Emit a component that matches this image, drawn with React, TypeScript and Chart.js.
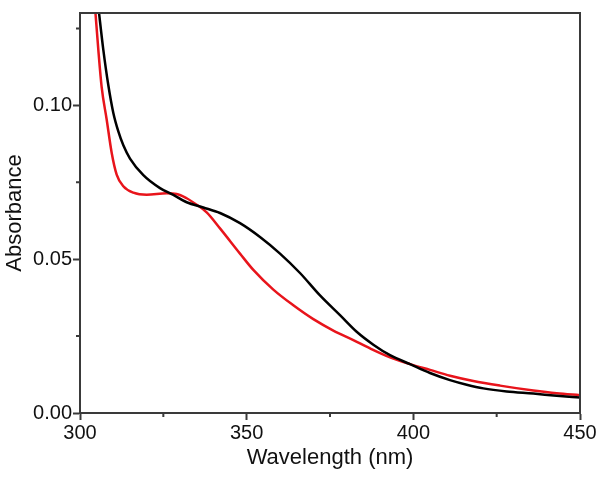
import React, { useEffect, useRef } from "react";
import { Chart, registerables } from "chart.js";

Chart.register(...registerables);

const blackWavelengths = [305.5, 307, 308.5, 310, 311.5, 313, 315, 319, 324, 328, 332, 337, 342, 348, 354, 360, 366, 372, 378, 383, 388, 393, 399, 405, 411, 416, 421, 428, 436, 443, 450];
const blackAbsorbance = [0.132, 0.118, 0.1065, 0.0975, 0.0915, 0.087, 0.0827, 0.0773, 0.0731, 0.0709, 0.0685, 0.0668, 0.065, 0.0617, 0.0572, 0.0518, 0.0455, 0.0382, 0.0318, 0.0264, 0.0222, 0.0188, 0.0159, 0.013, 0.0107, 0.0092, 0.008, 0.007, 0.0063, 0.0056, 0.005];

const redWavelengths = [304.5, 305.5, 306.5, 308, 309.5, 311, 313, 316, 320, 326, 329, 332, 335, 338, 342, 348, 352, 358, 364, 370, 376, 382, 387, 393, 399, 405, 411, 418, 426, 436, 443, 450];
const redAbsorbance = [0.132, 0.118, 0.1059, 0.0954, 0.0846, 0.0775, 0.0737, 0.0716, 0.0709, 0.0714, 0.0712, 0.0698, 0.0677, 0.0652, 0.06, 0.0518, 0.0465, 0.0401, 0.035, 0.0305, 0.0268, 0.0237, 0.021, 0.0181, 0.0159, 0.014, 0.0121, 0.0104, 0.0089, 0.0073, 0.0064, 0.0058];

const xMajorTicks = [300, 350, 400, 450];
const xMinorTicks = [325, 375, 425];
const yMajorTicks = [0, 0.05, 0.1];
const yMinorTicks = [0.025, 0.075, 0.125];

const AXIS_COLOR = "#3a3a3a";
const FONT = "'Liberation Sans', Arial, sans-serif";

const frameAndMinorTicks = {
  id: "frameAndMinorTicks",
  afterDraw(chart: any) {
    const { ctx, chartArea, scales } = chart;
    ctx.save();
    ctx.strokeStyle = AXIS_COLOR;
    ctx.lineWidth = 2;
    ctx.strokeRect(chartArea.left, chartArea.top, chartArea.right - chartArea.left, chartArea.bottom - chartArea.top);
    ctx.beginPath();
    for (const v of xMinorTicks) {
      const px = scales.x.getPixelForValue(v);
      ctx.moveTo(px, chartArea.bottom);
      ctx.lineTo(px, chartArea.bottom + 4);
    }
    for (const v of yMinorTicks) {
      const py = scales.y.getPixelForValue(v);
      ctx.moveTo(chartArea.left, py);
      ctx.lineTo(chartArea.left - 4, py);
    }
    ctx.stroke();
    ctx.restore();
  },
};

export default function App() {
  const canvasRef = useRef<HTMLCanvasElement | null>(null);

  useEffect(() => {
    document.body.style.margin = "0";
    const canvas = canvasRef.current;
    if (!canvas) return;
    const chart = new Chart(canvas, {
      type: "line",
      data: {
        datasets: [
          {
            label: "black",
            data: blackWavelengths.map((x, i) => ({ x, y: blackAbsorbance[i] })),
            borderColor: "#000000",
            borderWidth: 2.5,
            pointRadius: 0,
            cubicInterpolationMode: "monotone",
          },
          {
            label: "red",
            data: redWavelengths.map((x, i) => ({ x, y: redAbsorbance[i] })),
            borderColor: "#e8141b",
            borderWidth: 2.5,
            pointRadius: 0,
            cubicInterpolationMode: "monotone",
          },
        ],
      },
      options: {
        animation: false,
        responsive: false,
        maintainAspectRatio: false,
        layout: { padding: { top: 5, right: 20, left: 0, bottom: 0 } },
        plugins: { legend: { display: false }, tooltip: { enabled: false } },
        scales: {
          x: {
            type: "linear",
            min: 300,
            max: 450,
            afterBuildTicks: (scale: any) => {
              scale.ticks = xMajorTicks.map((value) => ({ value }));
            },
            afterFit: (scale: any) => {
              scale.height = 64;
            },
            ticks: {
              color: "#111",
              font: { family: FONT, size: 20 },
              padding: 1,
              maxRotation: 0,
              callback: (v: any) => String(v),
            },
            grid: {
              drawOnChartArea: false,
              drawTicks: true,
              tickLength: 7,
              tickWidth: 2,
              tickColor: AXIS_COLOR,
            },
            border: { display: true, color: AXIS_COLOR, width: 2 },
            title: {
              display: true,
              text: "Wavelength (nm)",
              color: "#111",
              font: { family: FONT, size: 22 },
              padding: { top: 0, bottom: 6 },
            },
          },
          y: {
            type: "linear",
            min: 0,
            max: 0.13,
            afterBuildTicks: (scale: any) => {
              scale.ticks = yMajorTicks.map((value) => ({ value }));
            },
            afterFit: (scale: any) => {
              scale.width = 80;
            },
            ticks: {
              color: "#111",
              font: { family: FONT, size: 20 },
              padding: 1,
              callback: (v: any) => Number(v).toFixed(2),
            },
            grid: {
              drawOnChartArea: false,
              drawTicks: true,
              tickLength: 7,
              tickWidth: 2,
              tickColor: AXIS_COLOR,
            },
            border: { display: true, color: AXIS_COLOR, width: 2 },
            title: {
              display: true,
              text: "Absorbance",
              color: "#111",
              font: { family: FONT, size: 22 },
              padding: { top: 2, bottom: 0 },
            },
          },
        },
      },
      plugins: [frameAndMinorTicks],
    } as any);
    return () => chart.destroy();
  }, []);

  return (
    <div style={{ width: 600, height: 477, background: "#fff" }}>
      <canvas ref={canvasRef} width={600} height={477} style={{ display: "block" }} />
    </div>
  );
}
